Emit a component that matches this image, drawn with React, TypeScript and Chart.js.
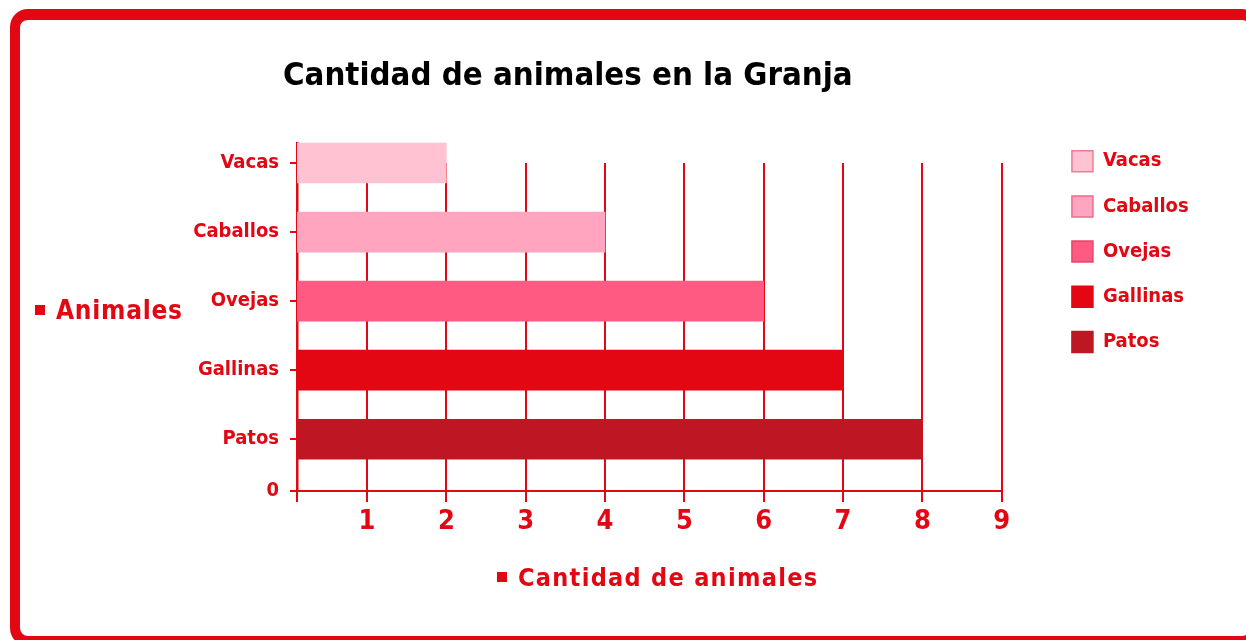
import React, { useEffect, useRef } from 'react';
import { Chart, registerables } from 'chart.js';

Chart.register(...registerables);

const categories = ['Vacas', 'Caballos', 'Ovejas', 'Gallinas', 'Patos'];
const values = [2, 4, 6, 7, 8];
const barColors = ['#FFC2D2', '#FFA5C0', '#FF5A82', '#E30613', '#BE1622'];
const legendBorders = ['#F27A92', '#F06A8A', '#E8466A', '#E30613', '#BE1622'];
const xTickValues = [1, 2, 3, 4, 5, 6, 7, 8, 9];
const xMin = 0.118;
const xMax = 9;
const yMin = 0;
const yMax = 4.75;
const yOriginLabel = '0';
const chartTitle = 'Cantidad de animales en la Granja';
const xTitle = 'Cantidad de animales';
const yTitle = 'Animales';

const RED = '#E30613';
const FONT = '"Liberation Sans Narrow", "DejaVu Sans Condensed", "Liberation Sans", sans-serif';

export default function App() {
  const canvasRef = useRef<HTMLCanvasElement | null>(null);

  useEffect(() => {
    const canvas = canvasRef.current;
    if (!canvas) return;
    const chart = new Chart(canvas, {
      type: 'bar',
      data: {
        datasets: [
          {
            label: 'Animales',
            data: categories.map((c, i) => ({ x: values[i], y: i })),
            backgroundColor: barColors,
            borderWidth: 0,
            barThickness: 40,
            xAxisID: 'x',
            yAxisID: 'y',
            clip: { left: 0, top: false, right: false, bottom: false } as any,
          },
        ],
      },
      options: {
        indexAxis: 'y',
        animation: false,
        responsive: false,
        events: [],
        layout: { padding: { left: 20, top: 126.5, right: 47.3, bottom: 97.6 } },
        plugins: {
          title: { display: false },
          tooltip: { enabled: false },
          legend: {
            display: true,
            position: 'right',
            align: 'start',
            labels: {
              boxWidth: 21,
              boxHeight: 21,
              padding: 24.2,
              color: RED,
              font: { family: FONT, size: 20, weight: 'bold' },
              generateLabels: () =>
                categories.map((c, i) => ({
                  text: c,
                  fillStyle: barColors[i],
                  strokeStyle: legendBorders[i],
                  lineWidth: 1.5,
                  fontColor: RED,
                  hidden: false,
                  index: i,
                  datasetIndex: 0,
                })),
            },
          },
        },
        scales: {
          x: {
            type: 'linear',
            position: 'bottom',
            min: xMin,
            max: xMax,
            offset: false,
            afterBuildTicks: (s: any) => {
              s.ticks = [xMin, ...xTickValues].map((v) => ({ value: v }));
            },
            ticks: {
              color: RED,
              padding: 4,
              font: { family: FONT, size: 27, weight: 'bold' },
              callback: (v: any) => (xTickValues.includes(Number(v)) ? String(v) : ''),
            },
            grid: {
              display: true,
              offset: false,
              drawOnChartArea: true,
              drawTicks: true,
              tickLength: 11,
              color: RED,
              lineWidth: 2,
            },
            border: { display: true, color: RED, width: 2 },
          },
          y: {
            type: 'linear',
            position: 'left',
            reverse: true,
            offset: false,
            min: yMin,
            max: yMax,
            afterBuildTicks: (s: any) => {
              s.ticks = [...categories.map((_, i) => i), yMax].map((v) => ({ value: v }));
            },
            afterFit: (s: any) => {
              s.width = 277;
            },
            ticks: {
              color: RED,
              padding: 11,
              font: { family: FONT, size: 20, weight: 'bold' },
              callback: (v: any, idx: number) => (idx < categories.length ? categories[idx] : yOriginLabel),
            },
            grid: {
              display: true,
              offset: false,
              drawOnChartArea: false,
              drawTicks: true,
              tickLength: 7,
              color: RED,
              lineWidth: 2,
            },
            border: { display: true, color: RED, width: 2.5 },
          },
          x2: {
            type: 'linear',
            position: 'top',
            display: true,
            offset: false,
            min: xMin,
            max: xMax,
            afterBuildTicks: (s: any) => {
              s.ticks = [{ value: xMin }];
            },
            afterFit: (s: any) => {
              s.height = 36.5;
            },
            ticks: { display: false },
            grid: {
              display: true,
              offset: false,
              drawOnChartArea: false,
              drawTicks: true,
              tickLength: 21,
              color: RED,
              lineWidth: 2.5,
            },
            border: { display: false },
          },
          y2: {
            type: 'linear',
            position: 'right',
            display: true,
            afterFit: (s: any) => {
              s.width = 46;
            },
            ticks: { display: false },
            grid: { display: false },
            border: { display: false },
          },
        },
      } as any,
    });
    return () => chart.destroy();
  }, []);

  const titleBlock = (text: string, left: number, top: number, size: number, spacing: number) => (
    <div
      style={{
        position: 'absolute',
        left,
        top,
        height: 30,
        display: 'flex',
        alignItems: 'center',
        fontFamily: FONT,
        fontWeight: 'bold',
        fontSize: size,
        letterSpacing: spacing,
        color: RED,
        whiteSpace: 'nowrap',
      }}
    >
      <span style={{ display: 'inline-block', width: 10, height: 10, background: RED, marginRight: 11 }} />
      <span>{text}</span>
    </div>
  );

  return (
    <div style={{ position: 'fixed', left: 0, top: 0, width: 1246, height: 640, overflow: 'hidden', background: '#fff' }}>
      <div
        style={{
          position: 'absolute',
          left: 10,
          top: 9,
          width: 1250,
          height: 637,
          boxSizing: 'border-box',
          border: `10px solid ${RED}`,
          borderTopWidth: 11,
          borderRadius: 18,
        }}
      />
      <canvas
        ref={canvasRef}
        width={1246}
        height={640}
        style={{ position: 'absolute', left: 0, top: 0, width: 1246, height: 640, display: 'block' }}
      />
      <div
        style={{
          position: 'absolute',
          left: 283,
          top: 55.6,
          fontFamily: FONT,
          fontWeight: 'bold',
          fontSize: 32.7,
          lineHeight: '36px',
          letterSpacing: 0,
          color: '#000',
          whiteSpace: 'nowrap',
        }}
      >
        {chartTitle}
      </div>
      {titleBlock(yTitle, 35, 295, 26, 0.75)}
      {titleBlock(xTitle, 497, 562, 25, 1.3)}
    </div>
  );
}
